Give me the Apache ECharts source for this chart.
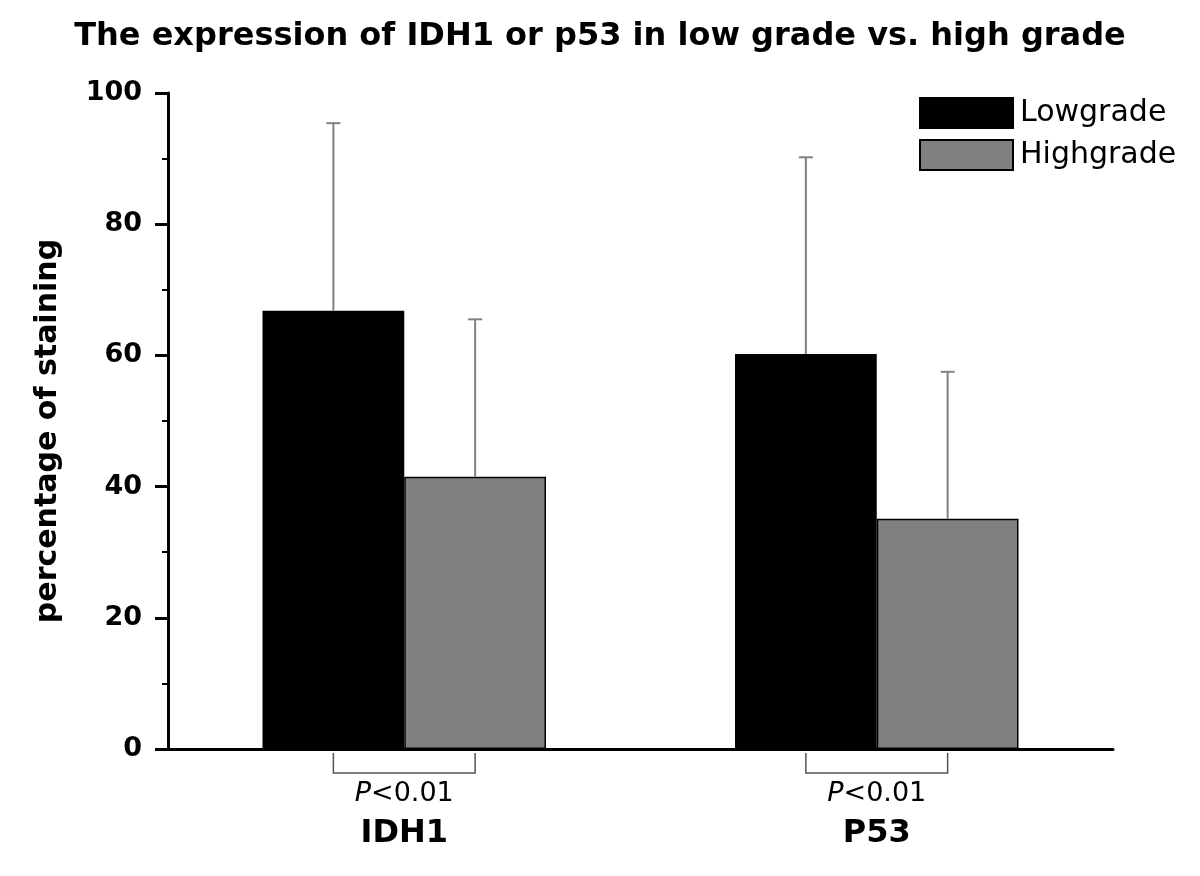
<!DOCTYPE html>
<html>
<head>
<meta charset="utf-8">
<script src="https://cdn.jsdelivr.net/npm/echarts@6/dist/echarts.min.js"></script>
<style>html,body{margin:0;padding:0;background:#fff}#c{width:1200px;height:876px}</style>
</head>
<body>
<div id="c"></div>
<script>
const categories = ['IDH1', 'P53'];
const seriesNames = ['Lowgrade', 'Highgrade'];
const lowgrade = [66.8, 60.2];
const highgrade = [41.5, 35.1];
const lowgradeErr = [28.6, 30.0];
const highgradeErr = [24.0, 22.4];
const pValues = ['<0.01', '<0.01'];
const yTicks = [0, 20, 40, 60, 80, 100];

const chart = echarts.init(document.getElementById('c'));
const FONT = '"DejaVu Sans", "Liberation Sans", Arial, sans-serif';

function errorRender(offsetSign) {
  return function (params, api) {
    const i = api.value(0);
    const v = api.value(1);
    const e = api.value(2);
    const band = api.size([1, 0])[0];
    const base = api.coord([i, v]);
    const top = api.coord([i, v + e]);
    const x = base[0] + offsetSign * band * 0.15;
    const style = { stroke: '#808080', lineWidth: 2 };
    return {
      type: 'group',
      children: [
        { type: 'line', shape: { x1: x, y1: base[1], x2: x, y2: top[1] }, style },
        { type: 'line', shape: { x1: x - 7, y1: top[1], x2: x + 7, y2: top[1] }, style }
      ]
    };
  };
}

function bracketRender(params, api) {
  const i = api.value(0);
  const band = api.size([1, 0])[0];
  const c = api.coord([i, 0]);
  const x1 = c[0] - band * 0.15;
  const x2 = c[0] + band * 0.15;
  const y1 = c[1] + 4;
  const y2 = c[1] + 24;
  return {
    type: 'polyline',
    shape: { points: [[x1, y1], [x1, y2], [x2, y2], [x2, y1]] },
    style: { stroke: '#555', lineWidth: 1.5, fill: null }
  };
}

chart.setOption({
  animation: false,
  backgroundColor: '#fff',
  title: {
    text: 'The expression of IDH1 or p53 in low grade vs. high grade',
    left: 'center',
    top: 16,
    textStyle: { fontFamily: FONT, fontWeight: 'bold', fontSize: 32, color: '#000' }
  },
  legend: {
    orient: 'vertical',
    left: 914,
    top: 92,
    itemWidth: 93,
    itemHeight: 30,
    itemGap: 10,
    icon: 'rect',
    data: seriesNames,
    textStyle: { fontFamily: FONT, fontSize: 30, color: '#000', lineHeight: 30, padding: [0, 0, 0, 2] }
  },
  grid: { left: 168, right: 87, top: 93, bottom: 127, containLabel: false },
  xAxis: {
    type: 'category',
    data: categories,
    axisLine: { lineStyle: { color: '#000', width: 3 } },
    axisTick: { show: false },
    axisLabel: {
      margin: 27,
      interval: 0,
      formatter: function (v, i) {
        return '{p|P}{n|' + pValues[i] + '}\n{c|' + v + '}';
      },
      rich: {
        p: { fontFamily: FONT, fontStyle: 'italic', fontSize: 27, color: '#000', lineHeight: 36 },
        n: { fontFamily: FONT, fontSize: 27, color: '#000', lineHeight: 36 },
        c: { fontFamily: FONT, fontWeight: 'bold', fontSize: 32, color: '#000', lineHeight: 44 }
      }
    }
  },
  yAxis: {
    type: 'value',
    min: yTicks[0],
    max: yTicks[yTicks.length - 1],
    interval: 20,
    name: 'percentage of staining',
    nameLocation: 'middle',
    nameGap: 105,
    nameTextStyle: { fontFamily: FONT, fontWeight: 'bold', fontSize: 30, color: '#000', padding: [0, 20, 0, 0] },
    axisLine: { show: true, lineStyle: { color: '#000', width: 3 } },
    axisTick: { show: true, length: 13, lineStyle: { color: '#000', width: 3 } },
    minorTick: { show: true, splitNumber: 2, length: 6, lineStyle: { color: '#000', width: 2 } },
    splitLine: { show: false },
    axisLabel: { margin: 26, fontFamily: FONT, fontWeight: 'bold', fontSize: 27, color: '#000' }
  },
  series: [
    {
      name: seriesNames[0], type: 'bar', data: lowgrade, barWidth: '30%', barGap: '0%',
      itemStyle: { color: '#000', borderColor: '#000', borderWidth: 1.5 }, z: 2
    },
    {
      name: seriesNames[1], type: 'bar', data: highgrade, barWidth: '30%', barGap: '0%',
      itemStyle: { color: '#808080', borderColor: '#000', borderWidth: 1.5 }, z: 2
    },
    {
      type: 'custom', name: 'errLow', renderItem: errorRender(-1), z: 3,
      data: lowgrade.map((v, i) => [i, v, lowgradeErr[i]])
    },
    {
      type: 'custom', name: 'errHigh', renderItem: errorRender(1), z: 3,
      data: highgrade.map((v, i) => [i, v, highgradeErr[i]])
    },
    {
      type: 'custom', name: 'bracket', renderItem: bracketRender, clip: false, z: 3,
      data: categories.map((c, i) => [i, 0])
    }
  ]
});
</script>
</body>
</html>
